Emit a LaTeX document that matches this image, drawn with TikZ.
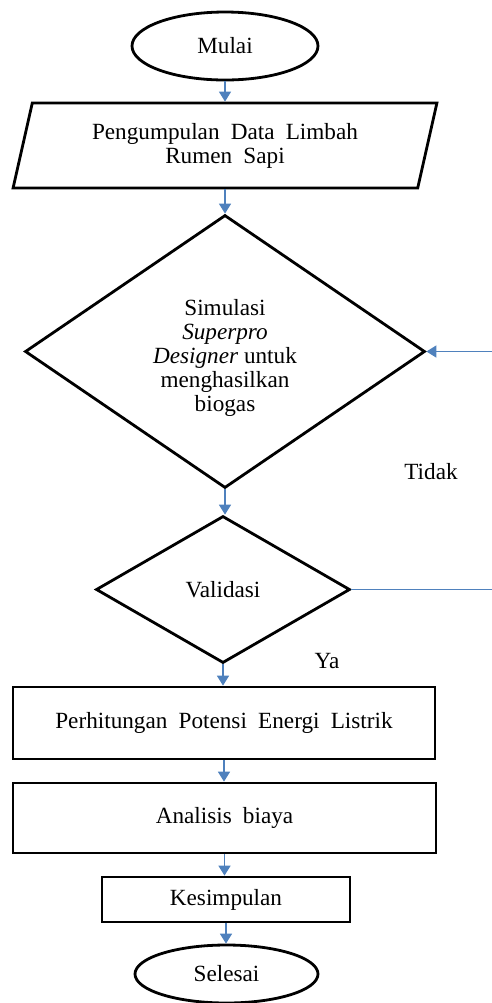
\documentclass[tikz,border=0pt]{standalone}
\usepackage{fontspec}
\setmainfont{Liberation Serif}
\usetikzlibrary{shapes.geometric,arrows.meta}
\definecolor{arrowblue}{HTML}{4F81BD}
\tikzset{
  txt/.style={font=\fontsize{11.6}{12}\selectfont, text=black, align=center, inner sep=0pt},
  shp/.style={txt, draw=black, line width=1.4pt},
  wide/.style={execute at begin node={\spaceskip=5.6pt plus 1pt\relax}},
  conn/.style={draw=arrowblue, line width=0.8pt, -{Triangle[width=6pt,length=5pt]}},
  lbl/.style={txt}
}
\begin{document}
\begin{tikzpicture}[x=0.5pt,y=-0.5pt]
\useasboundingbox (0,0) rectangle (492,1003);
\node[shp, ellipse, minimum width=93pt, minimum height=34pt] (start) at (225,46) {Mulai};
\node[shp, trapezium, trapezium left angle=73.6, trapezium right angle=106.4, trapezium stretches=true, minimum width=212pt, minimum height=42.5pt, wide] (data) at (225,145.5) {Pengumpulan Data Limbah\\Rumen Sapi};
\node[shp, diamond, aspect=1.5, minimum width=200pt, minimum height=136.5pt] (sim) at (225,351.5) {\rule{0pt}{14pt}Simulasi\\\textit{Superpro}\\\textit{Designer} untuk\\menghasilkan\\biogas};
\node[shp, diamond, minimum width=127pt, minimum height=73.5pt] (val) at (223,589.5) {Validasi};
\node[shp, rectangle, minimum width=211pt, minimum height=36pt, wide] (calc) at (224,723) {Perhitungan Potensi Energi Listrik};
\node[shp, rectangle, minimum width=211.5pt, minimum height=35pt, wide] (cost) at (224.5,818) {Analisis biaya};
\node[shp, rectangle, minimum width=124pt, minimum height=22.5pt] (concl) at (226,899.5) {Kesimpulan};
\node[shp, ellipse, minimum width=91.5pt, minimum height=29pt] (stop) at (226.5,974) {Selesai};
\node[lbl] (no) at (431,472) {Tidak};
\node[lbl] (yes) at (327,661) {Ya};
\draw[conn] (start.south) -- (start.south |- data.north);
\draw[conn] (data.south) -- (data.south |- sim.north);
\draw[conn] (sim.south) -- (sim.south |- val.north);
\draw[conn] (val.south) -- (val.south |- calc.north);
\draw[conn] (calc.south) -- (calc.south |- cost.north);
\draw[conn] (cost.south) -- (cost.south |- concl.north);
\draw[conn] (concl.south) -- (concl.south |- stop.north);
\coordinate (loopR) at (497,470);
\draw[conn] (val.east) -- (val.east -| loopR) -- (sim.east -| loopR) -- (sim.east);
\end{tikzpicture}
\end{document}
